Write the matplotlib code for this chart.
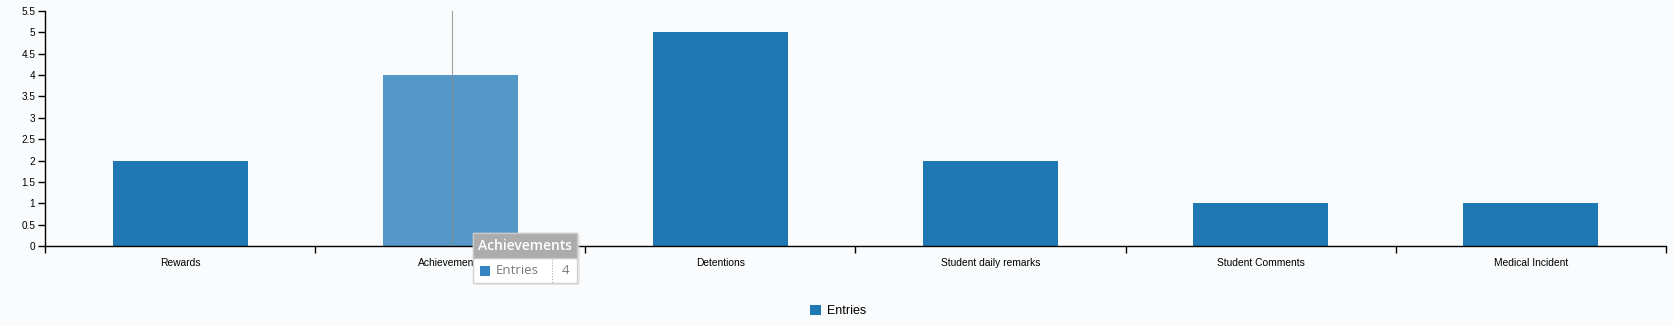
import matplotlib
matplotlib.use("Agg")
import matplotlib.pyplot as plt
from matplotlib.patches import Rectangle, Patch
from matplotlib.ticker import FixedLocator, FuncFormatter

categories = ["Rewards", "Achievements", "Detentions", "Student daily remarks",
              "Student Comments", "Medical Incident"]
entries = [2, 4, 5, 2, 1, 1]
series_name = "Entries"
hover_index = 1
yticks = [0, 0.5, 1, 1.5, 2, 2.5, 3, 3.5, 4, 4.5, 5, 5.5]

W, H = 1673, 326
bg = "#f9fbfd"
base = "#1f77b4"
hover = "#5598c8"

fig = plt.figure(figsize=(W / 100, H / 100), dpi=100, facecolor=bg)
ax = fig.add_axes([45 / W, (H - 246) / H, (1666 - 45) / W, (246 - 11) / H])
ax.set_facecolor(bg)

xs = list(range(len(categories)))
colors = [hover if i == hover_index else base for i in xs]
ax.bar(xs, entries, width=0.5, color=colors, linewidth=0, zorder=2)

ax.set_xlim(-0.5, len(categories) - 0.5)
ax.set_ylim(0, 5.5)

for s in ["top", "right"]:
    ax.spines[s].set_visible(False)
for s in ["left", "bottom"]:
    ax.spines[s].set_color("black")
    ax.spines[s].set_linewidth(1)

ax.set_yticks(yticks)
ax.yaxis.set_major_formatter(FuncFormatter(lambda v, p: ("%g" % v)))
ax.tick_params(axis="y", length=5, width=1, pad=2, labelsize=7.2, colors="black")

ax.set_xticks(xs)
ax.set_xticklabels(categories, fontsize=7.4)
ax.tick_params(axis="x", which="major", length=0, pad=9)
ax.xaxis.set_minor_locator(FixedLocator([i - 0.5 for i in range(len(categories) + 1)]))
ax.tick_params(axis="x", which="minor", length=5, width=1, color="black")

for lbl in ax.get_xticklabels() + ax.get_yticklabels():
    lbl.set_fontfamily("Liberation Sans")

# hover guideline
ax.axvline(hover_index + 0.005, color="#888888", lw=0.8, alpha=0.8, zorder=3, ymax=1.0)

# tooltip
def fr(x0, y0, x1, y1, **kw):
    fig.patches.append(Rectangle((x0 / W, 1 - y1 / H), (x1 - x0) / W, (y1 - y0) / H,
                                 transform=fig.transFigure, figure=fig, **kw))

fr(475, 235, 580, 285, facecolor="#d8d8d8", edgecolor="none", alpha=0.5, zorder=9)
fr(473, 233, 577, 283, facecolor="white", edgecolor="#d0d0d0", lw=1, zorder=10)
fr(473, 233, 577, 258, facecolor="#acacac", edgecolor="#c8c8c8", lw=1, zorder=11)
fig.text(478 / W, 1 - 245.5 / H, categories[hover_index], color="white", fontsize=10,
         fontfamily="Open Sans", fontweight="semibold", va="center", ha="left", zorder=12)
fr(480, 266, 490, 276, facecolor="#3384c0", edgecolor="none", zorder=12)
fig.text(496 / W, 1 - 271 / H, series_name, color="#7a7a7a", fontsize=9.5,
         fontfamily="Open Sans", va="center", ha="left", zorder=12)
fig.lines.append(plt.Line2D([552 / W, 552 / W], [1 - 259 / H, 1 - 283 / H],
                            transform=fig.transFigure, color="#aaaaaa", lw=0.8,
                            linestyle=(0, (1, 1.5)), zorder=12))
fig.text(565 / W, 1 - 271 / H, str(entries[hover_index]), color="#7a7a7a", fontsize=9.5,
         fontfamily="Open Sans", va="center", ha="center", zorder=12)

# legend
leg = fig.legend(handles=[Patch(facecolor=base, edgecolor="none", label=series_name)],
                 loc="center", bbox_to_anchor=(838 / W, 1 - 311 / H), frameon=False,
                 handlelength=0.9, handleheight=0.9, handletextpad=0.5,
                 prop={"family": "Liberation Sans", "size": 9})

fig.savefig("out.png", dpi=100, facecolor=bg)
